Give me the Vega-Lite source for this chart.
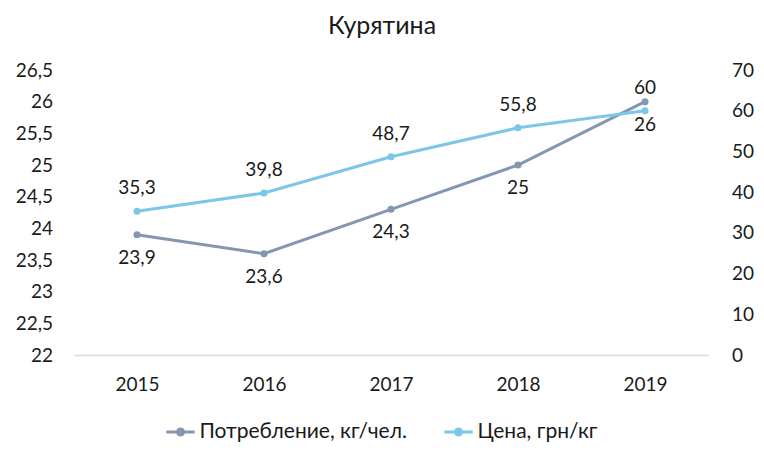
{
  "$schema": "https://vega.github.io/schema/vega-lite/v6.json",
  "autosize": "none",
  "width": 635,
  "height": 285,
  "padding": {"left": 73.5, "top": 70, "right": 55.5, "bottom": 100},
  "background": "white",
  "title": {"text": "Курятина", "fontSize": 25, "font": "Lato", "fontWeight": "normal", "color": "#1a1a1a", "offset": 22, "dx": -9},
  "config": {
    "font": "Lato",
    "locale": {"number": {"decimal": ",", "thousands": " ", "grouping": [3], "currency": ["", ""]}},
    "view": {"stroke": null},
    "axis": {"grid": false, "ticks": false, "domain": false, "labelFont": "Lato", "labelFontSize": 19, "labelColor": "#1a1a1a", "title": null}
  },
  "data": {
    "values": [
      {"year": "2015", "consumption": 23.9, "price": 35.3},
      {"year": "2016", "consumption": 23.6, "price": 39.8},
      {"year": "2017", "consumption": 24.3, "price": 48.7},
      {"year": "2018", "consumption": 25.0, "price": 55.8},
      {"year": "2019", "consumption": 26.0, "price": 60.0}
    ]
  },
  "layer": [
    {
      "encoding": {
        "y": {"field": "consumption", "type": "quantitative", "scale": {"domain": [22, 26.5], "zero": false, "nice": false}, "axis": {"values": [22, 22.5, 23, 23.5, 24, 24.5, 25, 25.5, 26, 26.5], "format": ".1~f", "labelPadding": 21}}
      },
      "layer": [
        {
          "mark": {"type": "line", "strokeWidth": 3, "point": {"size": 50, "filled": true}},
          "encoding": {"color": {"datum": "Потребление, кг/чел."}}
        },
        {
          "mark": {"type": "text", "baseline": "top", "dy": 14, "fontSize": 19, "color": "#1a1a1a"},
          "encoding": {"text": {"field": "consumption", "type": "quantitative", "format": ".1~f"}}
        }
      ]
    },
    {
      "encoding": {
        "y": {"field": "price", "type": "quantitative", "scale": {"domain": [0, 70], "nice": false}, "axis": {"orient": "right", "values": [0, 10, 20, 30, 40, 50, 60, 70], "labelPadding": 23}}
      },
      "layer": [
        {
          "mark": {"type": "line", "strokeWidth": 3, "point": {"size": 50, "filled": true}},
          "encoding": {"color": {"datum": "Цена, грн/кг"}}
        },
        {
          "mark": {"type": "text", "baseline": "bottom", "dy": -13, "fontSize": 19, "color": "#1a1a1a"},
          "encoding": {"text": {"field": "price", "type": "quantitative", "format": ".1~f"}}
        }
      ]
    }
  ],
  "resolve": {"scale": {"y": "independent"}},
  "encoding": {
    "x": {"field": "year", "type": "ordinal", "scale": {"paddingInner": 0, "paddingOuter": 0}, "axis": {"labelAngle": 0, "labelPadding": 20, "domain": true, "domainColor": "#d9d9d9", "domainWidth": 1.5}},
    "color": {
      "type": "nominal",
      "scale": {"domain": ["Потребление, кг/чел.", "Цена, грн/кг"], "range": ["#8497b0", "#7cc6e8"]},
      "legend": {"orient": "none", "legendX": 91, "legendY": 346, "direction": "horizontal", "title": null, "labelFontSize": 21, "labelLimit": 400, "labelColor": "#1a1a1a", "labelFont": "Lato", "symbolType": "M-1,0H1M-0.22,0A0.22,0.22 0 1,0 0.22,0A0.22,0.22 0 1,0 -0.22,0", "symbolSize": 800, "symbolStrokeWidth": 3, "columnPadding": 30, "labelOffset": 3}
    }
  }
}
